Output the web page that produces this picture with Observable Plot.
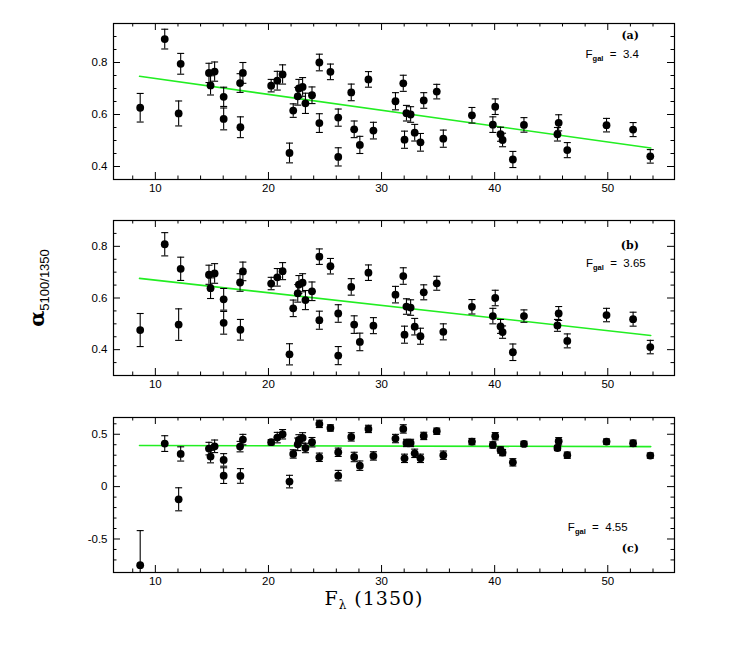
<!DOCTYPE html>
<html><head><meta charset="utf-8">
<script src="https://cdn.jsdelivr.net/npm/d3@7"></script>
<script src="https://cdn.jsdelivr.net/npm/@observablehq/plot@0.6"></script>
<style>
body{margin:0;background:#fff;}
#chart{position:relative;width:736px;height:654px;background:#fff;}
#chart svg{display:block;}
</style></head><body><div id="chart"></div>
<script>
// F_lambda(1350) of each object (shared by the three panels)
const flux = [8.66,10.83,12.06,12.24,14.74,14.88,15.24,16.04,16.04,17.49,17.52,17.74,20.24,20.78,21.25,21.86,22.19,22.59,22.69,23.02,23.27,23.85,24.5,24.5,25.48,26.17,26.17,27.32,27.58,28.08,28.84,29.28,31.23,31.92,32.03,32.2,32.57,32.93,33.44,33.73,34.88,35.46,37.99,39.84,40.05,40.52,40.7,41.61,42.59,45.55,45.66,46.42,49.89,52.24,53.76];
// panel (a): F_gal = 3.4
const alphaA = [0.626,0.89,0.604,0.795,0.76,0.712,0.765,0.668,0.583,0.721,0.551,0.76,0.711,0.73,0.754,0.452,0.615,0.67,0.70,0.706,0.643,0.674,0.567,0.80,0.764,0.588,0.437,0.685,0.543,0.483,0.735,0.538,0.651,0.72,0.503,0.605,0.60,0.53,0.493,0.654,0.688,0.507,0.597,0.561,0.63,0.524,0.502,0.427,0.56,0.524,0.568,0.463,0.559,0.542,0.439];
const errA = [0.055,0.038,0.048,0.04,0.037,0.037,0.037,0.037,0.042,0.036,0.04,0.04,0.024,0.036,0.037,0.038,0.026,0.034,0.035,0.036,0.039,0.032,0.036,0.032,0.03,0.033,0.035,0.032,0.032,0.033,0.03,0.032,0.033,0.031,0.033,0.03,0.03,0.032,0.034,0.03,0.028,0.033,0.03,0.03,0.03,0.027,0.026,0.031,0.028,0.026,0.031,0.029,0.026,0.027,0.026];
// panel (b): F_gal = 3.65
const alphaB = [0.476,0.808,0.497,0.713,0.69,0.638,0.695,0.595,0.504,0.66,0.477,0.703,0.656,0.68,0.704,0.382,0.56,0.618,0.652,0.659,0.592,0.626,0.514,0.76,0.723,0.54,0.377,0.643,0.497,0.43,0.698,0.493,0.613,0.685,0.458,0.567,0.563,0.489,0.452,0.622,0.657,0.469,0.566,0.53,0.60,0.49,0.468,0.39,0.53,0.494,0.54,0.434,0.534,0.518,0.41];
const errB = [0.064,0.045,0.061,0.045,0.037,0.04,0.038,0.042,0.044,0.034,0.04,0.036,0.024,0.034,0.033,0.041,0.032,0.034,0.035,0.035,0.037,0.036,0.035,0.03,0.03,0.034,0.035,0.032,0.034,0.034,0.03,0.031,0.032,0.032,0.033,0.03,0.03,0.032,0.031,0.029,0.027,0.031,0.028,0.03,0.03,0.027,0.024,0.032,0.024,0.023,0.027,0.027,0.026,0.027,0.026];
// panel (c): F_gal = 4.55
const alphaC = [-0.75,0.411,-0.121,0.312,0.363,0.287,0.385,0.255,0.105,0.382,0.102,0.449,0.424,0.468,0.50,0.048,0.312,0.404,0.446,0.465,0.369,0.424,0.28,0.599,0.56,0.328,0.105,0.475,0.283,0.20,0.551,0.293,0.459,0.551,0.27,0.417,0.417,0.318,0.27,0.484,0.529,0.30,0.43,0.398,0.481,0.35,0.325,0.232,0.408,0.369,0.433,0.30,0.43,0.414,0.296];
const errC = [0.33,0.075,0.11,0.068,0.06,0.06,0.06,0.06,0.075,0.05,0.07,0.05,0.025,0.05,0.045,0.06,0.04,0.06,0.05,0.05,0.045,0.045,0.04,0.035,0.03,0.04,0.05,0.04,0.045,0.045,0.035,0.04,0.04,0.04,0.04,0.035,0.035,0.04,0.04,0.035,0.03,0.04,0.03,0.03,0.035,0.03,0.03,0.035,0.025,0.025,0.035,0.03,0.025,0.03,0.025];
// fitted lines (end points)
const fitX = [8.6, 53.8];
const fitA = [0.747, 0.471];
const fitB = [0.676, 0.455];
const fitC = [0.392, 0.382];
// tick values
const xMajor = [10, 20, 30, 40, 50];
const xMinor = [8, 12, 14, 16, 18, 22, 24, 26, 28, 32, 34, 36, 38, 42, 44, 46, 48, 52, 54];
const yMajorAB = [0.4, 0.6, 0.8];
const yMinorA = [0.35, 0.45, 0.5, 0.55, 0.65, 0.7, 0.75, 0.85, 0.9];
const yMinorB = [0.35, 0.45, 0.5, 0.55, 0.65, 0.7, 0.75, 0.85];
const yMajorC = [-0.5, 0, 0.5];
const yMinorC = [-0.7, -0.6, -0.4, -0.3, -0.2, -0.1, 0.1, 0.2, 0.3, 0.4, 0.6];

const W = 736, ML = 113, MR = 62;
const frameW = W - ML - MR;
const capSymbol = {draw(ctx, size) { const r = Math.sqrt(size / Math.PI); ctx.moveTo(-r, 0); ctx.lineTo(r, 0); }};
const sans = "'Liberation Sans', Arial, Helvetica, sans-serif";

function panel(o) {
  const data = flux.map((x, i) => ({x, y: o.alpha[i], e: o.err[i]}));
  const fit = fitX.map((x, i) => ({x, y: o.fit[i]}));
  const frameH = o.height - o.mt - o.mb;
  const chart = Plot.plot({
    width: W, height: o.height,
    marginLeft: ML, marginRight: MR, marginTop: o.mt, marginBottom: o.mb,
    x: {domain: [6.3, 55.9], label: null},
    y: {domain: o.yDomain, label: null},
    style: {fontFamily: sans, fontSize: "11.5px", color: "#000", background: "#fff", overflow: "visible"},
    marks: [
      Plot.tickX(xMinor, {x: d => d, insetTop: frameH - 3.5, stroke: "#000"}),
      Plot.tickX(xMinor, {x: d => d, insetBottom: frameH - 3.5, stroke: "#000"}),
      Plot.tickX(xMajor, {x: d => d, insetTop: frameH - 7, stroke: "#000"}),
      Plot.tickX(xMajor, {x: d => d, insetBottom: frameH - 7, stroke: "#000"}),
      Plot.tickY(o.yMinor, {y: d => d, insetRight: frameW - 3.5, stroke: "#000"}),
      Plot.tickY(o.yMinor, {y: d => d, insetLeft: frameW - 3.5, stroke: "#000"}),
      Plot.tickY(o.yMajor, {y: d => d, insetRight: frameW - 7, stroke: "#000"}),
      Plot.tickY(o.yMajor, {y: d => d, insetLeft: frameW - 7, stroke: "#000"}),
      Plot.axisX({ticks: xMajor, tickSize: 0, tickPadding: 4, tickFormat: d => String(d), label: null}),
      Plot.axisY({ticks: o.yMajor, tickSize: 0, tickPadding: 6, tickFormat: d => String(d), label: null}),
      Plot.line(fit, {x: "x", y: "y", stroke: "#22ee22", strokeWidth: 1.6}),
      Plot.ruleX(data, {x: "x", y1: d => d.y - d.e, y2: d => d.y + d.e, stroke: "#000", strokeWidth: 1.1, clip: true}),
      Plot.dot(data, {x: "x", y: d => d.y + d.e, symbol: capSymbol, r: 3.5, stroke: "#000", strokeWidth: 1.1, fill: "none", clip: true}),
      Plot.dot(data, {x: "x", y: d => d.y - d.e, symbol: capSymbol, r: 3.5, stroke: "#000", strokeWidth: 1.1, fill: "none", clip: true}),
      Plot.dot(data, {x: "x", y: "y", r: 3.9, fill: "#000", stroke: "none"}),
      Plot.frame({stroke: "#000", strokeWidth: 1.2})
    ]
  });
  const sx = chart.scale("x"), sy = chart.scale("y");
  const svg = d3.select(chart);
  // panel tag
  svg.append("text").attr("x", sx.apply(o.tagPos[0])).attr("y", sy.apply(o.tagPos[1]))
    .attr("text-anchor", "end").attr("dominant-baseline", "middle")
    .attr("font-family", "'DejaVu Serif', serif").attr("font-weight", "bold").attr("font-size", 11)
    .text(o.tag);
  const t = svg.append("text").attr("x", sx.apply(o.fgalPos[0])).attr("y", sy.apply(o.fgalPos[1]))
    .attr("text-anchor", "end").attr("dy", "0.35em")
    .attr("font-family", sans).attr("font-size", 11.5);
  t.append("tspan").text("F");
  t.append("tspan").attr("font-size", 7.5).attr("font-weight", "bold").attr("dy", 3).text("gal");
  t.append("tspan").attr("dy", -3).attr("xml:space", "preserve").text("  =  " + o.fgal);
  return chart;
}

const root = document.getElementById("chart");
const pa = panel({alpha: alphaA, err: errA, fit: fitA, yDomain: [0.35, 0.95], yMajor: yMajorAB, yMinor: yMinorA,
  height: 200, mt: 23, mb: 21, tag: "(a)", fgal: "3.4", tagPos: [52.8, 0.9], fgalPos: [52.8, 0.83]});
const pb = panel({alpha: alphaB, err: errB, fit: fitB, yDomain: [0.3, 0.9], yMajor: yMajorAB, yMinor: yMinorB,
  height: 200, mt: 20, mb: 25, tag: "(b)", fgal: "3.65", tagPos: [52.8, 0.80], fgalPos: [53.4, 0.735]});
const pc = panel({alpha: alphaC, err: errC, fit: fitC, yDomain: [-0.82, 0.66], yMajor: yMajorC, yMinor: yMinorC,
  height: 254, mt: 17, mb: 82, tag: "(c)", fgal: "4.55", tagPos: [52.8, -0.6], fgalPos: [51.8, -0.39]});
root.append(pa, pb, pc);

// y-axis title on panel (b)
const yt = d3.select(pb).append("text").attr("transform", "translate(44,88) rotate(-90)")
  .attr("text-anchor", "middle").attr("font-family", sans);
yt.append("tspan").attr("font-size", 21).attr("font-weight", "bold").attr("font-family", "'DejaVu Serif', serif").text("α");
yt.append("tspan").attr("font-size", 13).attr("dy", 5).text("5100/1350");

// x-axis title on panel (c)
const xt = d3.select(pc).append("text").attr("x", 374).attr("y", 205)
  .attr("text-anchor", "middle").attr("font-family", "'DejaVu Serif', serif").attr("font-size", 19)
  .attr("letter-spacing", 1);
xt.append("tspan").text("F");
xt.append("tspan").attr("font-size", 12).attr("dy", 4).text("λ");
xt.append("tspan").attr("dy", -4).attr("xml:space", "preserve").text(" (1350)");
</script></body></html>
